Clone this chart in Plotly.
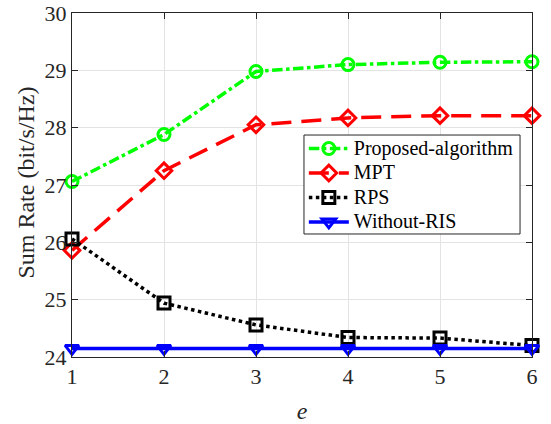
import plotly.graph_objects as go

e_vals = [1, 2, 3, 4, 5, 6]
proposed = [27.06, 27.88, 28.98, 29.10, 29.14, 29.15]
mpt = [25.86, 27.25, 28.05, 28.17, 28.21, 28.21]
rps = [26.06, 24.94, 24.56, 24.34, 24.33, 24.20]
without_ris = [24.15, 24.15, 24.15, 24.15, 24.15, 24.15]
series_names = ["Proposed-algorithm", "MPT", "RPS", "Without-RIS"]

FONT = "Liberation Serif, Times New Roman, serif"

fig = go.Figure()
styles = [
    ("#00ff00", "dashdot", "circle-open"),
    ("#ff0000", "20px,10px", "diamond-open"),
    ("#000000", "dot", "square-open"),
    ("#0000ff", "solid", "triangle-down-open"),
]
for name, vals, (col, dash, sym) in zip(series_names, [proposed, mpt, rps, without_ris], styles):
    fig.add_trace(go.Scatter(
        x=e_vals, y=vals, name='<span style="font-size:20px">' + name + '</span>',
        mode="lines+markers",
        line=dict(color=col, width=3.5, dash=dash),
        marker=dict(symbol=sym, size=12, color=col, line=dict(color=col, width=3)),
        cliponaxis=False,
    ))

axis_common = dict(
    showline=True, linecolor="#262626", linewidth=1, mirror="ticks",
    ticks="inside", ticklen=6, tickcolor="#262626",
    showgrid=True, gridcolor="#e3e3e3", gridwidth=1,
    zeroline=False, ticklabeloverflow="allow", automargin=False,
    tickfont=dict(family=FONT, size=22, color="#262626"),
)

# legend frame drawn as a paper-referenced box
fig.add_shape(type="rect", xref="paper", yref="paper",
              x0=0.5043, x1=0.974, y0=0.3576, y1=0.6453,
              fillcolor="white", line=dict(color="#262626", width=1), layer="above")

# y-axis title
fig.add_annotation(text="Sum Rate (bit/s/Hz)", xref="paper", yref="paper",
                   x=-0.1, y=0.507, xanchor="center", yanchor="middle",
                   textangle=-90, showarrow=False,
                   font=dict(family=FONT, size=24, color="#262626"))

fig.update_layout(
    width=551, height=424,
    margin=dict(l=72, r=19, t=13, b=67),
    paper_bgcolor="white", plot_bgcolor="white",
    font=dict(family=FONT, color="#262626"),
    xaxis=dict(range=[1, 6], tickmode="linear", tick0=1, dtick=1,
               title=dict(text="<i>e</i>", font=dict(family=FONT, size=24)),
               **axis_common),
    yaxis=dict(range=[24, 30], tickmode="linear", tick0=24, dtick=1,
               **axis_common),
    legend=dict(
        x=0.504, y=0.656, xanchor="left", yanchor="top",
        bgcolor="rgba(0,0,0,0)", borderwidth=0,
        font=dict(family=FONT, size=16.5, color="black"),
        itemwidth=40, tracegroupgap=0,
    ),
    showlegend=True,
)

fig.write_html("out.html", config={"displayModeBar": False},
               post_script="document.body.style.margin='0';document.body.style.overflow='hidden';")
